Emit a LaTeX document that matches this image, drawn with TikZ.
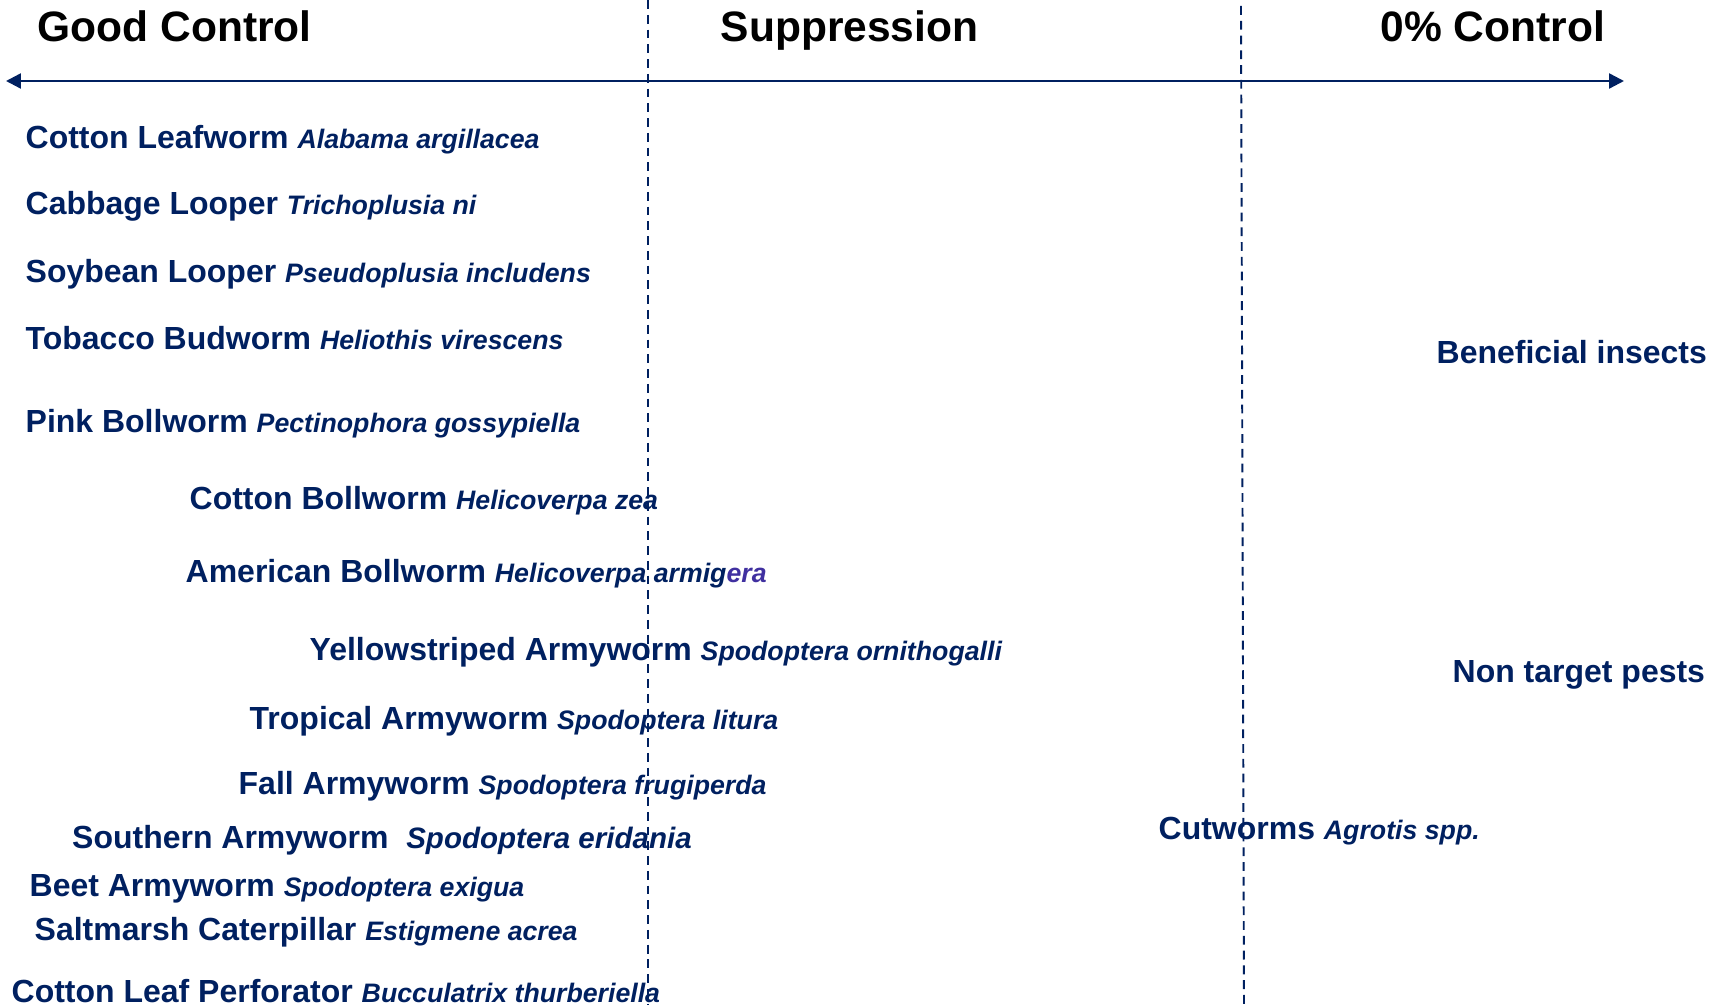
\documentclass[tikz,border=0pt]{standalone}
\usepackage{fontspec}
\setmainfont{Liberation Sans}
\usetikzlibrary{arrows.meta}

\definecolor{navy}{RGB}{0,32,96}
\definecolor{armpurple}{RGB}{64,48,160}

\newcommand{\sci}[1]{{\fontsize{7.6}{9}\selectfont\itshape #1}}
\newcommand{\bigsci}[1]{{\fontsize{8.4}{10}\selectfont\itshape #1}}

\tikzset{
    pestname/.style={anchor=base west, inner sep=0pt, text=navy, font=\fontsize{9.1}{10}\selectfont\bfseries},
    zonetitle/.style={anchor=base west, inner sep=0pt, font=\fontsize{12.1}{14}\selectfont\bfseries},
    zoneline/.style={navy, dash pattern=on 2.5pt off 1.7pt, line width=0.55pt},
    axistip/.tip={Triangle[length=0.15cm, width=0.15cm]}
}

\begin{document}
\begin{tikzpicture}[scale=1]
    \useasboundingbox (0, 0) rectangle (17.25, -10.05);

    % Zone titles
    \node[zonetitle] (good) at (0.37, -0.42) {Good Control};
    \node[zonetitle] (suppression) at (7.20, -0.42) {Suppression};
    \node[zonetitle] (zero) at (13.80, -0.42) {0\% Control};

    % Axis from good control to no control
    \coordinate (axisL) at (0.06, -0.81);
    \coordinate (axisR) at (16.24, -0.81);
    \draw[navy, line width=0.7pt, axistip-axistip] (axisL) -- (axisR);

    % Zone boundaries
    \coordinate (cutAtop) at (6.48, 0);
    \coordinate (cutAbot) at (6.48, -10.05);
    \coordinate (cutBtop) at (12.41, -0.06);
    \coordinate (cutBbot) at (12.44, -10.05);
    \draw[zoneline] (cutAtop) -- (cutAbot);
    \draw[zoneline] (cutBtop) -- (cutBbot);

    % Pests under good control
    \node[pestname] (leafworm) at (0.25, -1.49) {Cotton Leafworm \sci{Alabama argillacea}};
    \node[pestname] (cabbage) at (0.25, -2.15) {Cabbage Looper \sci{Trichoplusia ni}};
    \node[pestname] (soybean) at (0.25, -2.825) {Soybean Looper \sci{Pseudoplusia includens}};
    \node[pestname] (tobacco) at (0.25, -3.50) {Tobacco Budworm \sci{Heliothis virescens}};
    \node[pestname] (pink) at (0.25, -4.325) {Pink Bollworm \sci{Pectinophora gossypiella}};

    % Pests towards suppression
    \node[pestname] (cottonbw) at (1.89, -5.095) {Cotton Bollworm \sci{Helicoverpa zea}};
    \node[pestname] (american) at (1.85, -5.825) {American Bollworm \sci{Helicoverpa armig\textcolor{armpurple}{era}}};
    \node[pestname] (yellow) at (3.09, -6.605) {Yellowstriped Armyworm \sci{Spodoptera ornithogalli}};
    \node[pestname] (tropical) at (2.49, -7.295) {Tropical Armyworm \sci{Spodoptera litura}};
    \node[pestname] (fall) at (2.38, -7.945) {Fall Armyworm \sci{Spodoptera frugiperda}};
    \node[pestname] (southern) at (0.715, -8.485) {Southern Armyworm~ \bigsci{Spodoptera eridania}};
    \node[pestname] (beet) at (0.29, -8.965) {Beet Armyworm \sci{Spodoptera exigua}};
    \node[pestname] (saltmarsh) at (0.34, -9.405) {Saltmarsh Caterpillar \sci{Estigmene acrea}};
    \node[pestname] (perforator) at (0.11, -10.03) {Cotton Leaf Perforator \sci{Bucculatrix thurberiella}};

    % Little or no control
    \node[pestname] (cutworms) at (11.58, -8.40) {Cutworms \sci{Agrotis spp.}};
    \node[pestname] (beneficial) at (14.36, -3.64) {Beneficial insects};
    \node[pestname] (nontarget) at (14.52, -6.83) {Non target pests};
\end{tikzpicture}
\end{document}
